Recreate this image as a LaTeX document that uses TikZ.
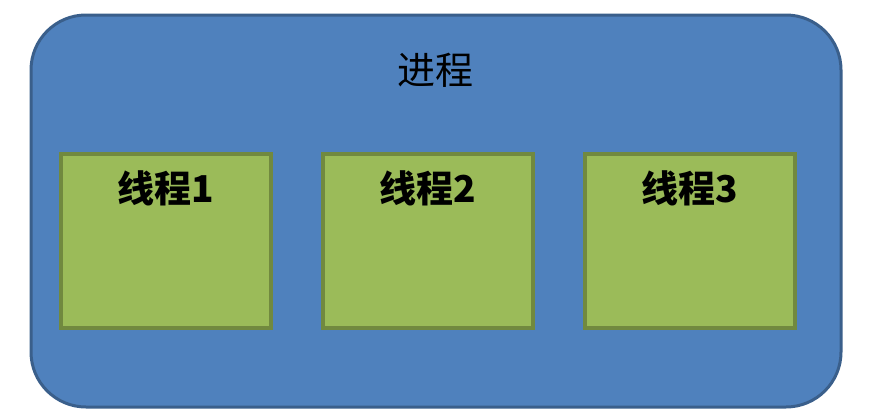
\documentclass[tikz,border=0pt]{standalone}
\usepackage{fontspec}
\newfontfamily\cjk{Noto Sans CJK SC}
\definecolor{procfill}{HTML}{4F81BD}
\definecolor{procline}{HTML}{3A5F8B}
\definecolor{thrfill}{HTML}{9BBB59}
\definecolor{thrline}{HTML}{71893F}
\begin{document}
\begin{tikzpicture}[x=1pt,y=-1pt,
  procbox/.style={fill=procfill,draw=procline,line width=3pt,rounded corners=55pt},
  thrbox/.style={fill=thrfill,draw=thrline,line width=4pt},
  thrlabel/.style={font=\cjk\fontsize{37}{37}\selectfont\bfseries,text=black},
  proclabel/.style={font=\cjk\fontsize{38}{38}\selectfont,text=black}]
\useasboundingbox (0,0) rectangle (869,415);
\draw[procbox] (31,15) rectangle (841,407);
\node[proclabel] (p) at (435,70) {进程};
\draw[thrbox] (61,154) rectangle (271,328);
\draw[thrbox] (323,154) rectangle (533,328);
\draw[thrbox] (585,154) rectangle (795,328);
\node[thrlabel] (t1) at (166,188) {线程1};
\node[thrlabel] (t2) at (428,188) {线程2};
\node[thrlabel] (t3) at (690,188) {线程3};
\end{tikzpicture}
\end{document}
